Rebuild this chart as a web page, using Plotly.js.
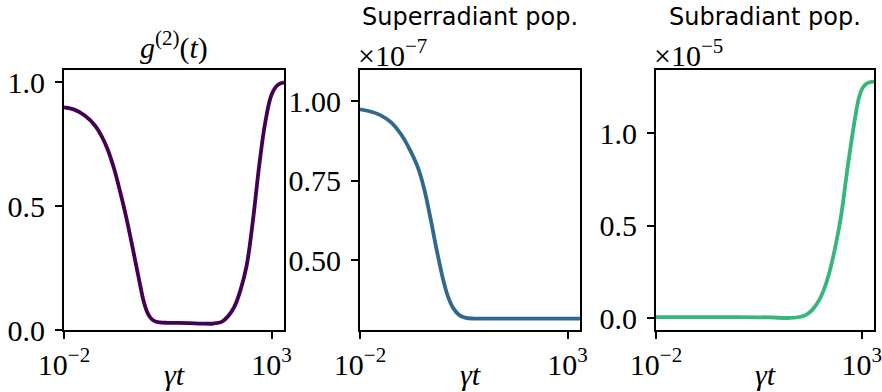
<!DOCTYPE html>
<html>
<head>
<meta charset="utf-8">
<script src="https://cdn.plot.ly/plotly-3.0.1.min.js"></script>
<style>html,body{margin:0;padding:0;background:#fff;}#chart{width:882px;height:392px;}</style>
</head>
<body>
<div id="chart"></div>
<script>
// g2(t)
var tG2 = [0.01, 0.01778, 0.03162, 0.05623, 0.07943, 0.1122, 0.1585, 0.2239, 0.3162, 0.4467, 0.631, 0.8318, 1, 1.202, 1.479, 1.995, 3.162, 10, 19.95, 39.81, 63.1, 89.13, 125.9, 177.8, 251.2, 354.8, 501.2, 707.9, 1000, 1413, 1995];
var g2 = [0.899, 0.89, 0.866, 0.825, 0.785, 0.73, 0.655, 0.56, 0.455, 0.335, 0.21, 0.115, 0.074, 0.05, 0.037, 0.031, 0.029, 0.028, 0.026, 0.026, 0.033, 0.055, 0.092, 0.16, 0.26, 0.44, 0.66, 0.84, 0.95, 0.99, 1.0];
// superradiant population (units of 1e-7)
var tSuper = [0.01, 0.01778, 0.03162, 0.05623, 0.1, 0.1585, 0.2512, 0.3548, 0.5012, 0.7079, 1, 1.318, 1.778, 2.512, 3.548, 5.623, 31.62, 1995];
var superPop = [0.974, 0.967, 0.955, 0.933, 0.893, 0.847, 0.789, 0.722, 0.63, 0.53, 0.44, 0.385, 0.348, 0.326, 0.318, 0.316, 0.316, 0.316];
// subradiant population (units of 1e-5)
var tSub = [0.01, 1, 6.31, 15.85, 28.18, 44.67, 63.1, 93.33, 125.9, 162.2, 213.8, 285.1, 354.8, 414, 501.2, 602.6, 724.4, 871, 1047, 1259, 1585, 1995];
var subPop = [0.006, 0.006, 0.004, 0.001, 0.005, 0.018, 0.045, 0.099, 0.165, 0.243, 0.355, 0.495, 0.63, 0.748, 0.88, 1.0, 1.11, 1.198, 1.245, 1.266, 1.277, 1.28];

var panelTitles = ["<i>g</i><sup>(2)</sup>(<i>t</i>)", "Superradiant pop.", "Subradiant pop."];
var scaleLabels = ["", "×10<sup>−7</sup>", "×10<sup>−5</sup>"];
var xTickVals = [0.01, 1000];
var xTickText = ["10<sup>−2</sup>", "10<sup>3</sup>"];
var yTicks1 = [0.0, 0.5, 1.0], yTickText1 = ["0.0", "0.5", "1.0"];
var yTicks2 = [0.50, 0.75, 1.00], yTickText2 = ["0.50", "0.75", "1.00"];
var yTicks3 = [0.0, 0.5, 1.0], yTickText3 = ["0.0", "0.5", "1.0"];
var colors = ["#440154", "#31688e", "#35b779"];

var W = 882, H = 392;
var serif = "Liberation Serif, Times New Roman, serif";
var sans = "DejaVu Sans, sans-serif";
var domX = [[64/W, 284/W], [360/W, 580/W], [656/W, 874/W]];
var domY = [62/H, 322/H];
var FS = 30;

function trace(x, y, i) {
  return {x: x, y: y, type: 'scatter', mode: 'lines',
    line: {color: colors[i], width: 3.8, shape: 'spline', smoothing: 1.0},
    xaxis: i === 0 ? 'x' : 'x' + (i + 1), yaxis: i === 0 ? 'y' : 'y' + (i + 1),
    hoverinfo: 'skip', showlegend: false};
}
function xax(i) {
  return {domain: domX[i], type: 'log', range: [-2, 3.3], anchor: i === 0 ? 'y' : 'y' + (i + 1),
    tickvals: xTickVals, ticktext: xTickText, ticks: 'outside', ticklen: 7, tickwidth: 2,
    tickcolor: '#000', showline: true, mirror: true, linewidth: 2, linecolor: '#000',
    showgrid: false, zeroline: false, tickfont: {family: serif, size: FS, color: '#000'}};
}
function yax(i, range, tv, tt) {
  return {domain: domY, range: range, anchor: i === 0 ? 'x' : 'x' + (i + 1),
    tickvals: tv, ticktext: tt, ticks: 'outside', ticklen: 7, tickwidth: 2, ticklabelstandoff: 4,
    tickcolor: '#000', showline: true, mirror: true, linewidth: 2, linecolor: '#000',
    showgrid: false, zeroline: false, tickfont: {family: serif, size: FS, color: '#000'}};
}

var data = [trace(tG2, g2, 0), trace(tSuper, superPop, 1), trace(tSub, subPop, 2)];
var annotations = [];
var titleY = [46, 17, 17];
var titleFont = [{family: serif, size: FS, color: '#000'}, {family: sans, size: 24, color: '#000'}, {family: sans, size: 24, color: '#000'}];
for (var i = 0; i < 3; i++) {
  var cx = (domX[i][0] + domX[i][1]) / 2;
  annotations.push({xref: 'paper', yref: 'paper', x: cx, y: 1 - titleY[i] / H, xanchor: 'center', yanchor: 'middle',
    text: panelTitles[i], showarrow: false, font: titleFont[i]});
  annotations.push({xref: 'paper', yref: 'paper', x: cx, y: 1 - 374 / H, xanchor: 'center', yanchor: 'middle',
    text: '<i>γt</i>', showarrow: false, font: {family: serif, size: FS, color: '#000'}});
  if (scaleLabels[i]) {
    annotations.push({xref: 'paper', yref: 'paper', x: domX[i][0] - 4 / W, y: 1 - 53 / H, xanchor: 'left', yanchor: 'middle',
      text: scaleLabels[i], showarrow: false, font: {family: serif, size: FS, color: '#000'}});
  }
}

var layout = {
  width: W, height: H, margin: {l: 0, r: 0, t: 0, b: 0},
  paper_bgcolor: '#fff', plot_bgcolor: '#fff', showlegend: false,
  xaxis: xax(0), xaxis2: xax(1), xaxis3: xax(2),
  yaxis: yax(0, [0, 1.05], yTicks1, yTickText1),
  yaxis2: yax(1, [0.28, 1.0975], yTicks2, yTickText2),
  yaxis3: yax(2, [-0.064, 1.343], yTicks3, yTickText3),
  annotations: annotations
};
Plotly.newPlot('chart', data, layout, {staticPlot: true, displayModeBar: false});
</script>
</body>
</html>
